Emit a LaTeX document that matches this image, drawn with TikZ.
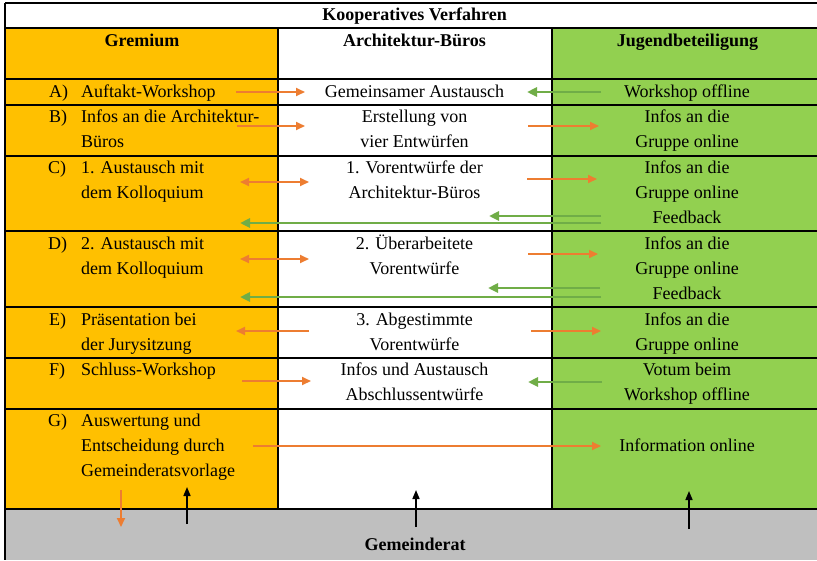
\documentclass[tikz,border=0pt]{standalone}
\usepackage{fontspec}
\setmainfont{Liberation Serif}
\usetikzlibrary{arrows.meta}
\definecolor{gold}{HTML}{FFC000}
\definecolor{lgreen}{HTML}{92D050}
\definecolor{lgray}{HTML}{BFBFBF}
\definecolor{oarrow}{HTML}{ED7D31}
\definecolor{garrow}{HTML}{70AD47}
\tikzset{
  txt/.style={font=\fontsize{18}{25}\selectfont, anchor=base, inner sep=0pt},
  ltxt/.style={txt, anchor=base west},
  hd/.style={txt, font=\fontsize{18}{25}\selectfont\bfseries},
  grid/.style={draw=black, line width=1.2pt},
  oarr/.style={draw=oarrow, line width=2pt, -{Triangle[length=9pt,width=8pt]}},
  odbl/.style={draw=oarrow, line width=2pt, {Triangle[length=9pt,width=8pt]}-{Triangle[length=9pt,width=8pt]}},
  garr/.style={draw=garrow, line width=2.6pt, -{Triangle[length=10pt,width=9pt]}},
  barr/.style={draw=black, line width=1.6pt, -{Triangle[length=9pt,width=7pt]}}
}
\begin{document}
\begin{tikzpicture}[x=1pt,y=-1pt]
\useasboundingbox (0,0) rectangle (817,560);
\fill[white] (0,0) rectangle (817,560);
% column fills
\fill[gold] (5,28) rectangle (278,509);
\fill[lgreen] (552,28) rectangle (817,509);
\fill[lgray] (5,509) rectangle (817,560);
% grid lines
\foreach \yy in {3,28,79,105,156,231,307,358,409,509}
  \draw[grid] (5,\yy) -- (817,\yy);
\draw[grid] (5,3) -- (5,560);
\draw[grid] (278,28) -- (278,509);
\draw[grid] (552,28) -- (552,509);

% headers
\node[hd] (title) at (414.5,20) {Kooperatives Verfahren};
\node[hd] (hgrem) at (142,46.5) {Gremium};
\node[hd] (harch) at (414.5,46.5) {Architektur-Büros};
\node[hd] (hjug) at (687.5,46.5) {Jugendbeteiligung};
\node[hd] (gemrat) at (415,550) {Gemeinderat};

% left column
\node[ltxt] (lA) at (49,97.5) {A)};
\node[ltxt] (tA) at (81,97.5) {Auftakt-Workshop};
\node[ltxt] (lB) at (49,122.5) {B)};
\node[ltxt] (tB1) at (81,122.5) {Infos an die Architektur-};
\node[ltxt] (tB2) at (81,147.5) {Büros};
\node[ltxt] (lC) at (48,173) {C)};
\node[ltxt] (tC1) at (81,173) {1. Austausch mit};
\node[ltxt] (tC2) at (81,198) {dem Kolloquium};
\node[ltxt] (lD) at (48,249) {D)};
\node[ltxt] (tD1) at (81,249) {2. Austausch mit};
\node[ltxt] (tD2) at (81,274) {dem Kolloquium};
\node[ltxt] (lE) at (49,325) {E)};
\node[ltxt] (tE1) at (81,325) {Präsentation bei};
\node[ltxt] (tE2) at (81,350) {der Jurysitzung};
\node[ltxt] (lF) at (49,375) {F)};
\node[ltxt] (tF1) at (81,375) {Schluss-Workshop};
\node[ltxt] (lG) at (48,426) {G)};
\node[ltxt] (tG1) at (81,426) {Auswertung und};
\node[ltxt] (tG2) at (81,451) {Entscheidung durch};
\node[ltxt] (tG3) at (81,476) {Gemeinderatsvorlage};

% middle column
\node[txt] (mA) at (414.5,97.5) {Gemeinsamer Austausch};
\node[txt] (mB1) at (414.5,122.5) {Erstellung von};
\node[txt] (mB2) at (414.5,147.5) {vier Entwürfen};
\node[txt] (mC1) at (414.5,173) {1. Vorentwürfe der};
\node[txt] (mC2) at (414.5,198) {Architektur-Büros};
\node[txt] (mD1) at (414.5,249) {2. Überarbeitete};
\node[txt] (mD2) at (414.5,274) {Vorentwürfe};
\node[txt] (mE1) at (414.5,325) {3. Abgestimmte};
\node[txt] (mE2) at (414.5,350) {Vorentwürfe};
\node[txt] (mF1) at (414.5,375) {Infos und Austausch};
\node[txt] (mF2) at (414.5,400) {Abschlussentwürfe};

% right column
\node[txt] (rA) at (687,97.5) {Workshop offline};
\node[txt] (rB1) at (687,122.5) {Infos an die};
\node[txt] (rB2) at (687,147.5) {Gruppe online};
\node[txt] (rC1) at (687,173) {Infos an die};
\node[txt] (rC2) at (687,198) {Gruppe online};
\node[txt] (rC3) at (687,223) {Feedback};
\node[txt] (rD1) at (687,249) {Infos an die};
\node[txt] (rD2) at (687,274) {Gruppe online};
\node[txt] (rD3) at (687,299) {Feedback};
\node[txt] (rE1) at (687,325) {Infos an die};
\node[txt] (rE2) at (687,350) {Gruppe online};
\node[txt] (rF1) at (687,375) {Votum beim};
\node[txt] (rF2) at (687,400) {Workshop offline};
\node[txt] (rG) at (687,451) {Information online};

% arrow end points
\coordinate (a1) at (236,92);  \coordinate (a2) at (305,92);
\coordinate (a3) at (601,92);  \coordinate (a4) at (527,92);
\coordinate (b1) at (237,126); \coordinate (b2) at (305,126);
\coordinate (b3) at (528,126); \coordinate (b4) at (599,126);
\coordinate (c1) at (240,182); \coordinate (c2) at (309,182);
\coordinate (c3) at (527,179); \coordinate (c4) at (597,179);
\coordinate (c5) at (601,216); \coordinate (c6) at (489,216);
\coordinate (c7) at (601,223); \coordinate (c8) at (240,223);
\coordinate (d1) at (240,259); \coordinate (d2) at (309,259);
\coordinate (d3) at (528,254); \coordinate (d4) at (598,254);
\coordinate (d5) at (600,288); \coordinate (d6) at (488,288);
\coordinate (d7) at (601,297); \coordinate (d8) at (240,297);
\coordinate (e1) at (309,331); \coordinate (e2) at (236,331);
\coordinate (e3) at (531,331); \coordinate (e4) at (601,331);
\coordinate (f1) at (242,381); \coordinate (f2) at (311,381);
\coordinate (f3) at (602,382); \coordinate (f4) at (528,382);
\coordinate (g1) at (253,446); \coordinate (g2) at (601,446);
\coordinate (h1) at (121,490); \coordinate (h2) at (121,527);
\coordinate (k1) at (187,524); \coordinate (k2) at (187,487);
\coordinate (k3) at (416,527); \coordinate (k4) at (416,490);
\coordinate (k5) at (689,529); \coordinate (k6) at (689,491);

\draw[oarr] (a1) -- (a2);
\draw[garr] (a3) -- (a4);
\draw[oarr] (b1) -- (b2);
\draw[oarr] (b3) -- (b4);
\draw[odbl] (c1) -- (c2);
\draw[oarr] (c3) -- (c4);
\draw[garr] (c5) -- (c6);
\draw[garr] (c7) -- (c8);
\draw[odbl] (d1) -- (d2);
\draw[oarr] (d3) -- (d4);
\draw[garr] (d5) -- (d6);
\draw[garr] (d7) -- (d8);
\draw[oarr] (e1) -- (e2);
\draw[oarr] (e3) -- (e4);
\draw[oarr] (f1) -- (f2);
\draw[garr] (f3) -- (f4);
\draw[oarr] (g1) -- (g2);
\draw[oarr] (h1) -- (h2);
\draw[barr] (k1) -- (k2);
\draw[barr] (k3) -- (k4);
\draw[barr] (k5) -- (k6);
\end{tikzpicture}
\end{document}
